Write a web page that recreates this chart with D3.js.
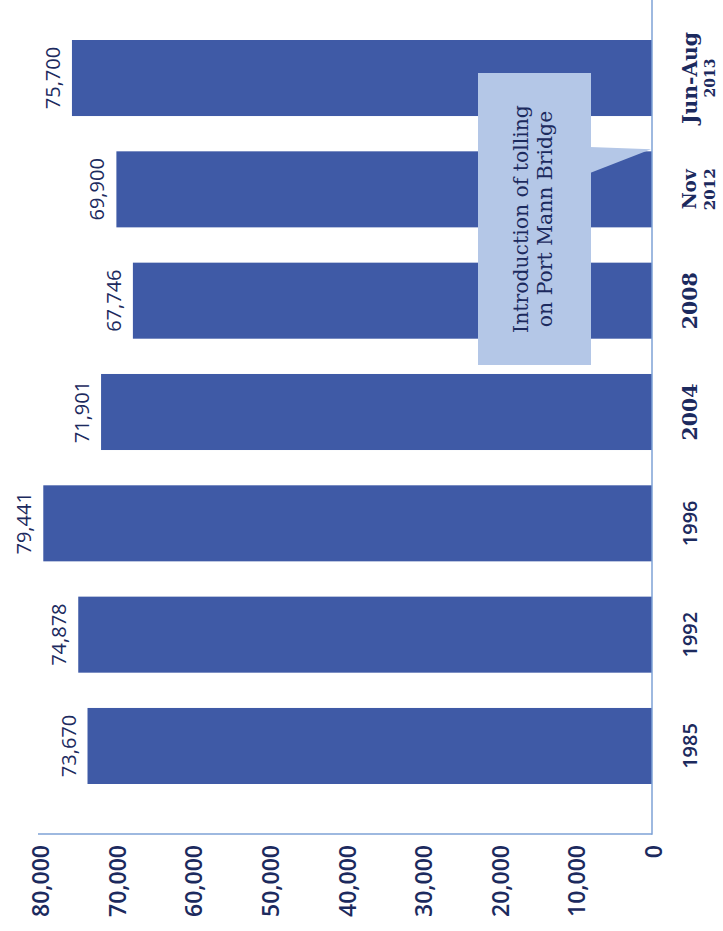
<!DOCTYPE html>
<html>
<head>
<meta charset="utf-8">
<script src="https://cdn.jsdelivr.net/npm/d3@7/dist/d3.min.js"></script>
<style>
  html, body { margin: 0; padding: 0; background: #ffffff; }
  svg { display: block; }
</style>
</head>
<body>
<script>
const categories = ["1985", "1992", "1996", "2004", "2008", "Nov 2012", "Jun-Aug 2013"];
const categoryLines = [["1985"], ["1992"], ["1996"], ["2004"], ["2008"], ["Nov", "2012"], ["Jun-Aug", "2013"]];
const values = [73670, 74878, 79441, 71901, 67746, 69900, 75700];
const valueLabels = ["73,670", "74,878", "79,441", "71,901", "67,746", "69,900", "75,700"];
const tickValues = [0, 10000, 20000, 30000, 40000, 50000, 60000, 70000, 80000];
const tickLabels = ["0", "10,000", "20,000", "30,000", "40,000", "50,000", "60,000", "70,000", "80,000"];
const annotationLines = ["Introduction of tolling", "on Port Mann Bridge"];

const W = 723, H = 931;
const barColor = "#3f5aa6";
const axisColor = "#7ea2d6";
const textColor = "#1c2a5e";
const boxColor = "#b4c7e7";
const serifFont = "'DejaVu Serif', 'Liberation Serif', serif";
const sansFont = "'Open Sans', sans-serif";

const svg = d3.select("body").append("svg").attr("width", W).attr("height", H);

// scale a text's font size so its rendered length matches a target length
function fitLength(sel, target) {
  const node = sel.node();
  const len = node.getComputedTextLength();
  if (len > 0) {
    const fs = parseFloat(sel.attr("font-size"));
    sel.attr("font-size", (fs * target / len).toFixed(2));
  }
}

// value scale runs right-to-left (chart rotated 90° counter-clockwise)
const x = d3.scaleLinear().domain([0, 80000]).range([652, 39]);
// categories run bottom-to-top
const y = d3.scaleBand().domain(categories.slice().reverse()).range([40, 784]).paddingInner(0.317).paddingOuter(0);

// bars
svg.append("g").selectAll("rect").data(categories).join("rect")
  .attr("x", (d, i) => x(values[i]))
  .attr("y", d => y(d))
  .attr("width", (d, i) => x(0) - x(values[i]))
  .attr("height", y.bandwidth())
  .attr("fill", barColor);

// value labels
svg.append("g").selectAll("text").data(categories).join("text")
  .attr("transform", (d, i) => `translate(${x(values[i]) - 19},${y(d) + y.bandwidth() / 2}) rotate(-90)`)
  .attr("text-anchor", "middle")
  .attr("dy", "0.35em")
  .attr("font-family", sansFont)
  .attr("font-size", 20)
  .attr("fill", textColor)
  .text((d, i) => valueLabels[i]);

// value axis (bottom line) and tick labels
svg.append("line")
  .attr("x1", x(80000) - 1).attr("x2", x(0))
  .attr("y1", 834).attr("y2", 834)
  .attr("stroke", axisColor).attr("stroke-width", 1.5);

svg.append("g").selectAll("text").data(tickValues).join("text")
  .attr("transform", d => `translate(${x(d) + 2},845) rotate(-90)`)
  .attr("text-anchor", "end")
  .attr("dy", "0.35em")
  .attr("font-family", sansFont)
  .attr("font-weight", 600)
  .attr("font-size", 23)
  .attr("fill", textColor)
  .text((d, i) => tickLabels[i]);

// category axis (right line)
svg.append("line")
  .attr("x1", x(0)).attr("x2", x(0))
  .attr("y1", 0).attr("y2", 834.75)
  .attr("stroke", axisColor).attr("stroke-width", 1.5);

// category labels
const serifTargets = { "2004": 57, "2008": 57, "Nov": 40, "2012": 42, "Jun-Aug": 92, "2013": 39 };
const catG = svg.append("g").selectAll("g").data(categories).join("g")
  .attr("transform", d => `translate(${x(0) + 38},${y(d) + y.bandwidth() / 2}) rotate(-90)`);
catG.each(function (d, i) {
  const g = d3.select(this);
  const lines = categoryLines[i];
  const serif = i >= 3;
  lines.forEach((t, j) => {
    const txt = g.append("text")
      .attr("text-anchor", "middle")
      .attr("y", j * 20)
      .attr("dy", "0.35em")
      .attr("font-family", serif ? serifFont : sansFont)
      .attr("font-weight", serif ? 700 : 600)
      .attr("font-size", serif ? (j === 0 ? 20 : 16) : 20)
      .attr("fill", textColor)
      .text(t);
    if (serif) fitLength(txt, serifTargets[t]);
  });
});

// annotation callout
const ann = svg.append("g");
const tipY = y("Nov 2012") - 2;
ann.append("path")
  .attr("d", `M590,147 L${x(0) - 1},${tipY} L590,173 Z`)
  .attr("fill", boxColor);
ann.append("rect")
  .attr("x", 478).attr("y", 73)
  .attr("width", 113).attr("height", 292)
  .attr("fill", boxColor);
const annTargets = [228, 200];
annotationLines.forEach((t, j) => {
  const txt = ann.append("text")
    .attr("transform", `translate(${521 + j * 24},219) rotate(-90)`)
    .attr("text-anchor", "middle")
    .attr("dy", "0.35em")
    .attr("font-family", serifFont)
    .attr("font-size", 18)
    .attr("fill", textColor)
    .text(t);
  if (j === 0) fitLength(txt, annTargets[0]);
});
// second line uses the same size as the first
ann.selectAll("text").attr("font-size", ann.select("text").attr("font-size"));
</script>
</body>
</html>
